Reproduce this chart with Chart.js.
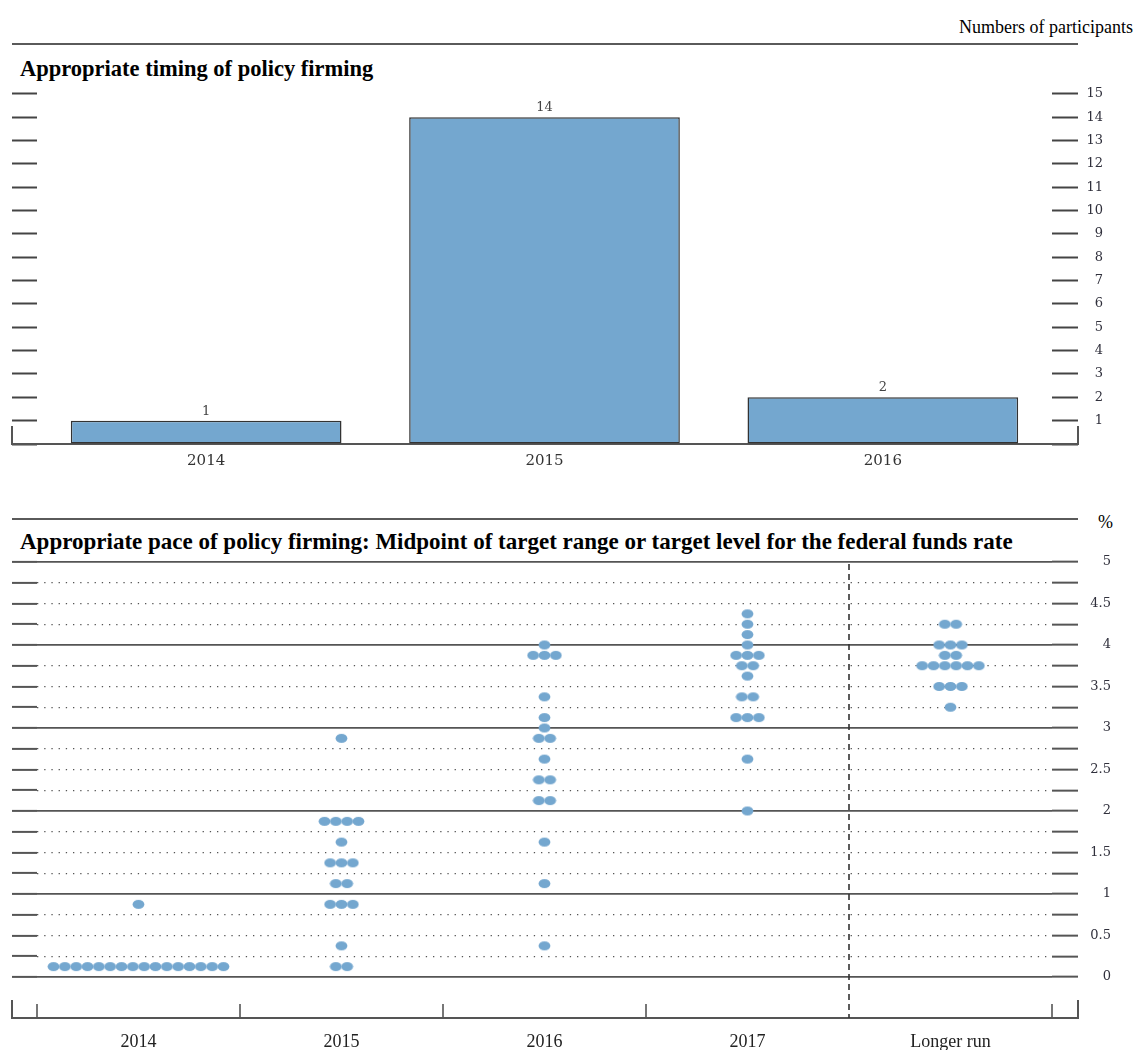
<!DOCTYPE html>
<html><head><meta charset="utf-8">
<script src="https://cdn.jsdelivr.net/npm/chart.js@4.4.1/dist/chart.umd.min.js"></script>
<style>
html,body{margin:0;padding:0;background:#fff;}
body{width:1136px;height:1050px;position:relative;overflow:hidden;font-family:'Liberation Serif',serif;}
.t{position:absolute;white-space:nowrap;line-height:1;color:#000;}
.rule{position:absolute;left:12px;width:1066px;height:2px;background:#5a5a5a;}
canvas{position:absolute;left:0;}
</style></head><body>
<div class="t" style="right:3px;top:18px;font-size:18px;">Numbers of participants</div>
<div class="rule" style="top:43px"></div>
<div class="t" style="left:20px;top:58px;font-size:22.5px;font-weight:bold;">Appropriate timing of policy firming</div>
<canvas id="c1" width="1136" height="400" style="top:80px"></canvas>
<div class="rule" style="top:518px"></div>
<div class="t" style="left:1098px;top:513px;font-size:18px;">%</div>
<div class="t" style="left:20px;top:530px;font-size:23px;font-weight:bold;">Appropriate pace of policy firming: Midpoint of target range or target level for the federal funds rate</div>
<canvas id="c2" width="1136" height="505" style="top:545px"></canvas>
<script>
// ---- Data: timing of policy firming ----
const timingYears = ['2014', '2015', '2016'];
const timingCounts = [1, 14, 2];

// ---- Data: dot plot ----
const categories = ['2014', '2015', '2016', '2017', 'Longer run'];
const rates2014 = [0.125, 0.875];
const counts2014 = [16, 1];
const rates2015 = [0.125, 0.375, 0.875, 1.125, 1.375, 1.625, 1.875, 2.875];
const counts2015 = [2, 1, 3, 2, 3, 1, 4, 1];
const rates2016 = [0.375, 1.125, 1.625, 2.125, 2.375, 2.625, 2.875, 3.0, 3.125, 3.375, 3.875, 4.0];
const counts2016 = [1, 1, 1, 2, 2, 1, 2, 1, 1, 1, 3, 1];
const rates2017 = [2.0, 2.625, 3.125, 3.375, 3.625, 3.75, 3.875, 4.0, 4.125, 4.25, 4.375];
const counts2017 = [1, 1, 3, 2, 1, 2, 3, 1, 1, 1, 1];
const ratesLonger = [3.25, 3.5, 3.75, 3.875, 4.0, 4.25];
const countsLonger = [1, 3, 6, 2, 3, 2];

const BLUE = '#74a7cf';
const DOT_STEP = 0.0558;

const columns = [
  [rates2014, counts2014], [rates2015, counts2015], [rates2016, counts2016],
  [rates2017, counts2017], [ratesLonger, countsLonger]
];
const dotPoints = [];
columns.forEach(([rates, counts], i) => {
  rates.forEach((r, k) => {
    const n = counts[k];
    for (let j = 0; j < n; j++) dotPoints.push({x: i + (j - (n - 1) / 2) * DOT_STEP, y: r});
  });
});

const dotImg = (() => {
  const c = document.createElement('canvas'); c.width = 13; c.height = 11;
  const g = c.getContext('2d'); g.fillStyle = BLUE;
  g.beginPath(); g.ellipse(6.5, 5.5, 5.9, 4.6, 0, 0, Math.PI * 2); g.fill();
  return c;
})();

const TICK_FONT = {family: 'DejaVu Serif', size: 13};
const TICK_COLOR = '#30303c';

// ---- Chart 1 ----
const frame1 = {
  id: 'frame1',
  beforeDatasetsDraw(chart) {
    const {ctx, chartArea: a} = chart;
    const l = a.left - 25, r = a.right + 26, b = a.bottom;
    ctx.save(); ctx.strokeStyle = '#555'; ctx.lineWidth = 2;
    ctx.beginPath();
    ctx.moveTo(l, b - 18); ctx.lineTo(l, b); ctx.lineTo(r, b); ctx.lineTo(r, b - 18);
    ctx.stroke(); ctx.restore();
  }
};
const barLabels = {
  id: 'barLabels',
  afterDatasetsDraw(chart) {
    const {ctx} = chart;
    const meta = chart.getDatasetMeta(0);
    ctx.save(); ctx.fillStyle = '#444'; ctx.font = '13px "DejaVu Serif"';
    ctx.textAlign = 'center'; ctx.textBaseline = 'bottom';
    meta.data.forEach((el, i) => ctx.fillText(String(chart.data.datasets[0].data[i]), el.x, el.y - 3));
    ctx.restore();
  }
};
new Chart(document.getElementById('c1'), {
  type: 'bar',
  data: {labels: timingYears, datasets: [{data: timingCounts, backgroundColor: BLUE, borderColor: '#333', borderWidth: 1.5, borderSkipped: false, barPercentage: 0.8, categoryPercentage: 1, yAxisID: 'y'}]},
  options: {
    responsive: false, animation: false, events: [],
    layout: {padding: {left: 12, right: 33, top: 3, bottom: 0}},
    plugins: {legend: {display: false}, tooltip: {enabled: false}},
    scales: {
      x: {type: 'category', offset: true, grid: {display: false, drawTicks: false}, border: {display: false},
          ticks: {color: '#333', font: {family: 'DejaVu Serif', size: 15}, padding: 8}, afterFit: s => { s.height = 36; }},
      yL: {position: 'left', min: 0, max: 15, ticks: {stepSize: 1, display: false},
           grid: {drawOnChartArea: false, tickLength: 25, tickColor: '#444', tickWidth: 2}, border: {display: false},
           afterFit: s => { s.width = 25; }},
      y: {position: 'right', min: 0, max: 15,
          ticks: {stepSize: 1, callback: v => v === 0 ? '' : String(v), crossAlign: 'far', padding: 6, color: TICK_COLOR, font: TICK_FONT, autoSkip: false},
          grid: {drawOnChartArea: false, tickLength: 26, tickColor: '#444', tickWidth: 2}, border: {display: false},
          afterFit: s => { s.width = 51; }}
    }
  },
  plugins: [frame1, barLabels]
});

// ---- Chart 2 ----
const frame2 = {
  id: 'frame2',
  afterDraw(chart) {
    const {ctx, chartArea: a} = chart;
    const xs = chart.scales.x;
    const l = a.left - 25, r = a.right + 26, b = a.bottom + 41;
    ctx.save(); ctx.strokeStyle = '#555'; ctx.lineWidth = 2;
    ctx.beginPath();
    ctx.moveTo(l, b - 18); ctx.lineTo(l, b); ctx.lineTo(r, b); ctx.lineTo(r, b - 18);
    ctx.stroke();
    const sep = categories.length - 1;
    ctx.lineWidth = 1.6;
    for (let i = 0; i <= categories.length; i++) {
      if (i === sep) continue;
      const px = Math.round(xs.getPixelForValue(i - 0.5));
      ctx.beginPath(); ctx.moveTo(px, b - 14); ctx.lineTo(px, b); ctx.stroke();
    }
    const dx = Math.round(xs.getPixelForValue(sep - 0.5));
    ctx.strokeStyle = '#333'; ctx.lineWidth = 1.6; ctx.setLineDash([6, 4]);
    ctx.beginPath(); ctx.moveTo(dx, a.top + 2); ctx.lineTo(dx, b); ctx.stroke();
    ctx.restore();
  }
};
const isInt = v => Math.abs(v - Math.round(v)) < 1e-9;
new Chart(document.getElementById('c2'), {
  type: 'scatter',
  data: {datasets: [{data: dotPoints, pointStyle: dotImg, pointRadius: 6, backgroundColor: BLUE, borderWidth: 0, yAxisID: 'y'}]},
  options: {
    responsive: false, animation: false, events: [],
    layout: {padding: {left: 12, right: 25, top: 17, bottom: 0}},
    plugins: {legend: {display: false}, tooltip: {enabled: false}},
    scales: {
      x: {type: 'linear', min: -0.5, max: 4.5,
          afterBuildTicks: s => { s.ticks = categories.map((_, i) => ({value: i})); },
          ticks: {callback: (v, i) => categories[i], autoSkip: false, maxRotation: 0, color: '#222', font: {family: 'Liberation Serif', size: 18}, padding: 54},
          grid: {display: false, drawTicks: false}, border: {display: false}, afterFit: s => { s.height = 73; }},
      yL: {position: 'left', min: 0, max: 5, ticks: {stepSize: 0.25, display: false, autoSkip: false},
           grid: {color: c => isInt(c.tick.value) ? '#555' : 'rgba(0,0,0,0)', lineWidth: 1.8, tickLength: 25, tickColor: '#555', tickWidth: 2},
           border: {display: false}, afterFit: s => { s.width = 25; }},
      y: {position: 'right', min: 0, max: 5,
          ticks: {stepSize: 0.25, autoSkip: false, callback: v => (Math.round(v * 4) % 2 === 0) ? String(v) : '', crossAlign: 'far', padding: 6, color: TICK_COLOR, font: TICK_FONT},
          grid: {color: c => isInt(c.tick.value) ? 'rgba(0,0,0,0)' : '#555', lineWidth: 1.3, tickLength: 26, tickColor: '#555', tickWidth: 2, tickBorderDash: []},
          border: {display: false, dash: [1.3, 5.9]}, afterFit: s => { s.width = 59; }}
    }
  },
  plugins: [frame2]
});
</script>
</body></html>
